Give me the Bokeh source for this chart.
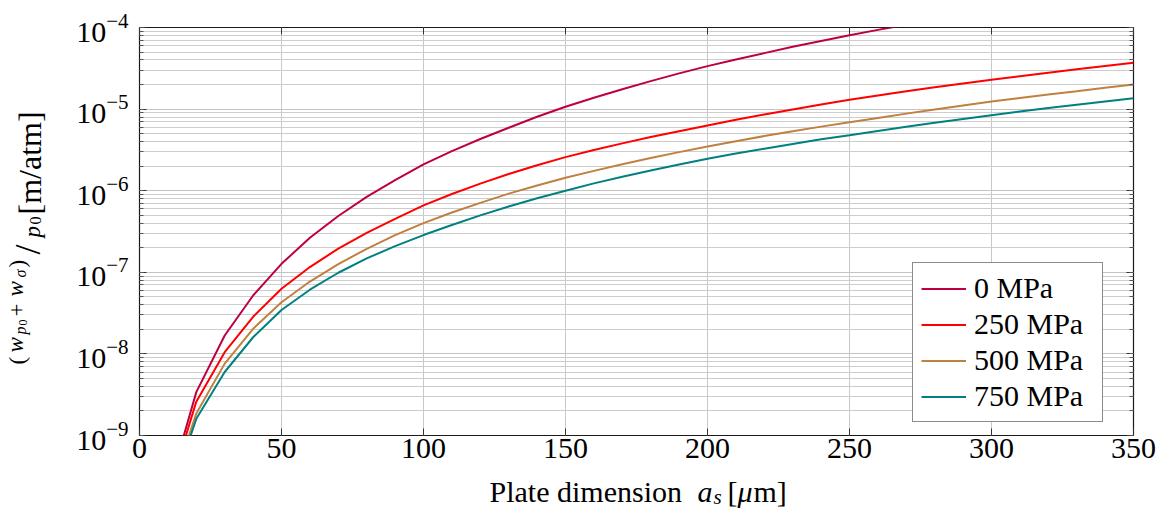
import math

from bokeh.plotting import figure
from bokeh.layouts import row, column
from bokeh.core.properties import value
from bokeh.models import (Range1d, LinearAxis, LogAxis, Legend, LegendItem,
                          SingleIntervalTicker, LogTicker, CustomLabelingPolicy)
from bokeh.embed import file_html
from bokeh.resources import INLINE

# Plate dimension a_s in micrometres
plate_um = [10, 20, 30, 40, 50, 60, 70, 80, 90, 100,
            110, 120, 130, 140, 150, 160, 170, 180, 190, 200,
            210, 220, 230, 240, 250, 260, 270, 280, 290, 300,
            310, 320, 330, 340, 350]

# Normalised deflection (w_p0 + w_sigma) / p0 in m/atm for each residual stress
w_0mpa = [2.1e-10, 3.4e-9, 1.68e-8, 5.2e-8, 1.27e-7, 2.65e-7, 4.9e-7, 8.4e-7, 1.35e-6, 2.1e-6,
          3.05e-6, 4.3e-6, 5.9e-6, 8.05e-6, 1.07e-5, 1.38e-5, 1.75e-5, 2.2e-5, 2.74e-5, 3.36e-5,
          4.05e-5, 4.85e-5, 5.8e-5, 6.85e-5, 8.05e-5, 9.35e-5, 1.08e-4, 1.24e-4]
w_250mpa = [1.9e-10, 2.6e-9, 1.05e-8, 2.85e-8, 6.3e-8, 1.16e-7, 1.95e-7, 3.05e-7, 4.52e-7, 6.6e-7,
            9.1e-7, 1.22e-6, 1.6e-6, 2.05e-6, 2.58e-6, 3.15e-6, 3.8e-6, 4.54e-6, 5.36e-6, 6.3e-6,
            7.4e-6, 8.6e-6, 9.9e-6, 1.14e-5, 1.3e-5, 1.47e-5, 1.65e-5, 1.85e-5, 2.06e-5, 2.29e-5,
            2.53e-5, 2.79e-5, 3.07e-5, 3.37e-5, 3.69e-5]
w_500mpa = [1.7e-10, 1.86e-9, 7.6e-9, 2.03e-8, 4.3e-8, 7.7e-8, 1.26e-7, 1.94e-7, 2.85e-7, 4.0e-7,
            5.4e-7, 7.1e-7, 9.2e-7, 1.16e-6, 1.44e-6, 1.75e-6, 2.11e-6, 2.52e-6, 2.97e-6, 3.48e-6,
            4.04e-6, 4.67e-6, 5.36e-6, 6.1e-6, 6.9e-6, 7.8e-6, 8.8e-6, 9.9e-6, 1.11e-5, 1.24e-5,
            1.37e-5, 1.51e-5, 1.66e-5, 1.83e-5, 2.0e-5]
w_750mpa = [1.5e-10, 1.6e-9, 6.0e-9, 1.6e-8, 3.45e-8, 6.12e-8, 9.87e-8, 1.48e-7, 2.09e-7, 2.86e-7,
            3.8e-7, 4.99e-7, 6.4e-7, 8.07e-7, 1.0e-6, 1.23e-6, 1.48e-6, 1.77e-6, 2.09e-6, 2.46e-6,
            2.85e-6, 3.27e-6, 3.74e-6, 4.26e-6, 4.78e-6, 5.4e-6, 6.07e-6, 6.8e-6, 7.58e-6, 8.42e-6,
            9.33e-6, 1.03e-5, 1.133e-5, 1.243e-5, 1.36e-5]

series_labels = ["0 MPa", "250 MPa", "500 MPa", "750 MPa"]
series_values = [w_0mpa, w_250mpa, w_500mpa, w_750mpa]
series_colors = ["#BF0040", "#FF0000", "#BF8040", "#008080"]

SERIF = "Liberation Serif"
TOTAL_W, TOTAL_H = 1167, 520
TITLE_W = 62              # strip on the left holding the vertical axis title
MAIN_H = 473              # main plot height; the horizontal axis title sits below it
BORDER_L = 139 - TITLE_W  # room for the y tick labels inside the main plot
BORDER_R = 34

# ---------------------------------------------------------------- main plot
p = figure(width=TOTAL_W - TITLE_W, height=MAIN_H, output_backend="svg", toolbar_location=None,
           x_range=Range1d(0, 350), y_range=Range1d(1e-9, 1e-4), y_axis_type="log",
           min_border_left=BORDER_L, min_border_right=BORDER_R,
           min_border_top=27, min_border_bottom=MAIN_H - 27 - 408)
p.background_fill_color = "white"
p.border_fill_color = "white"
p.outline_line_color = "#1a1a1a"
p.outline_line_width = 1.2

# mirrored axes on top and right carry ticks only; their labels are filtered out
no_labels = CustomLabelingPolicy(
    code="for (const i of [...indices.ones()]) { indices.unset(i) }; return indices")
p.add_layout(LinearAxis(major_label_policy=no_labels, major_label_text_font_size="10px"), "above")
p.add_layout(LogAxis(major_label_policy=no_labels, major_label_text_font_size="10px"), "right")

for ax in p.xaxis:
    ax.ticker = SingleIntervalTicker(interval=50, num_minor_ticks=0)
for ax in p.yaxis:
    ax.ticker = LogTicker(num_minor_ticks=10)

for ax in list(p.xaxis) + list(p.yaxis):
    ax.axis_line_color = None
    ax.major_tick_in = 7
    ax.major_tick_out = 0
    ax.minor_tick_in = 4
    ax.minor_tick_out = 0
    ax.major_tick_line_color = "#333333"
    ax.minor_tick_line_color = "#555555"
    ax.major_label_text_font = SERIF
    ax.major_label_text_color = "black"

p.below[0].major_label_text_font_size = "30px"
p.left[0].major_label_text_font_size = "30px"
p.below[0].major_label_standoff = 3
p.left[0].major_label_standoff = 11

p.xgrid.grid_line_color = "#c8c8c8"
p.xgrid.grid_line_width = 1
p.ygrid.grid_line_color = "#c4c4c4"
p.ygrid.minor_grid_line_color = "#cdcdcd"
p.ygrid.grid_line_width = 1
p.ygrid.minor_grid_line_width = 1

items = []
for name, vals, col in zip(series_labels, series_values, series_colors):
    r = p.line(plate_um[:len(vals)], vals, line_color=col, line_width=2)
    items.append(LegendItem(label=name, renderers=[r]))

legend = Legend(items=items, location=(773, 13), padding=8, spacing=2,
                glyph_width=45, glyph_height=31, label_height=31, label_width=120,
                label_standoff=8, label_text_font=SERIF, label_text_font_size="30px",
                label_text_color="black",
                border_line_color="#1a1a1a", border_line_width=1.2,
                background_fill_color="white", background_fill_alpha=1.0,
                margin=0)
p.add_layout(legend, "center")


# ---------------------------------------------------------------- axis titles
def text_panel(width, height, x_span, y_span, border_l=0, border_r=0):
    """Blank figure whose data space is given in page pixels (y pointing down)."""
    f = figure(width=width, height=height, output_backend="svg", toolbar_location=None,
               title=None, x_range=Range1d(*x_span), y_range=Range1d(*y_span),
               x_axis_location=None, y_axis_location=None,
               min_border=0, min_border_left=border_l, min_border_right=border_r,
               min_border_top=0, min_border_bottom=0)
    f.outline_line_color = None
    f.background_fill_color = "white"
    f.border_fill_color = "white"
    f.grid.visible = False
    return f


def put(fig, text, x, y, size, style="normal", angle=0.0):
    """Write one piece of a title at (x, y) page pixels."""
    fig.text(x=[x], y=[y], text=[text], angle=angle, text_align="left",
             text_baseline="alphabetic", text_font=value(SERIF),
             text_font_size=value(f"{size}px"), text_font_style=style, text_color="black")


# vertical title: (w_p0 + w_σ) / p0 [m/atm], read bottom to top
ytitle = text_panel(TITLE_W, TOTAL_H, (0, TITLE_W), (TOTAL_H, 0))
up = math.pi / 2
put(ytitle, "(", 17, 364, 23, angle=up)
put(ytitle, "w", 15, 352, 23, "italic", angle=up)
put(ytitle, "p", 20, 334, 16, "italic", angle=up)
put(ytitle, "0", 22, 325, 12, angle=up)
put(ytitle, "+", 16, 316, 23, angle=up)
put(ytitle, "w", 15, 296, 23, "italic", angle=up)
put(ytitle, "σ", 20, 277, 16, "italic", angle=up)
put(ytitle, ")", 17, 267, 23, angle=up)
put(ytitle, "/", 27, 254, 36, angle=up)
put(ytitle, "p", 32, 237, 23, "italic", angle=up)
put(ytitle, "0", 35, 224, 16, angle=up)
put(ytitle, "[m/atm]", 29, 214, 32, angle=up)

# horizontal title: Plate dimension a_s [μm]
frame_l = TITLE_W + BORDER_L
frame_r = TOTAL_W - BORDER_R
xtitle = text_panel(TOTAL_W - TITLE_W, TOTAL_H - MAIN_H, (frame_l, frame_r), (TOTAL_H, MAIN_H),
                    border_l=BORDER_L, border_r=BORDER_R)
put(xtitle, "Plate dimension", 489, 491, 30)
put(xtitle, "a", 697, 491, 30, "italic")
put(xtitle, "s", 713, 496, 21, "italic")
put(xtitle, "[", 727, 491, 30)
put(xtitle, "μ", 737, 491, 30, "italic")
put(xtitle, "m]", 753, 491, 30)

page = row(ytitle, column(p, xtitle))

open("out.html", "w").write(file_html(page, INLINE))
